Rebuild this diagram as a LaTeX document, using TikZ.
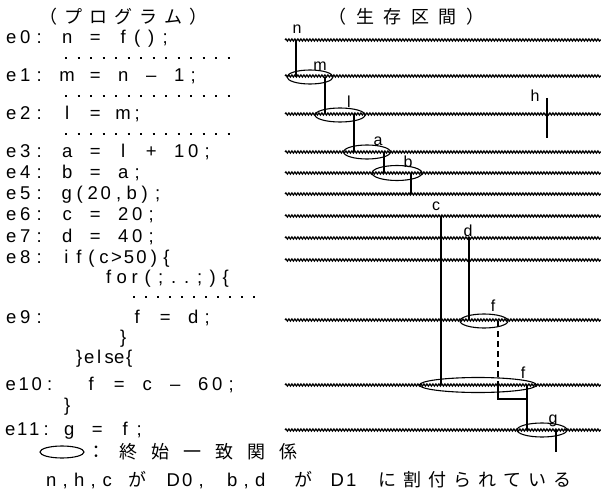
\documentclass[tikz,border=0pt]{standalone}
\usepackage{fontspec}
\setmainfont{Liberation Sans}
\newfontfamily\jp{Noto Sans CJK JP}
\usetikzlibrary{decorations.pathmorphing,shapes.geometric}
\makeatletter
\def\pl{\@ifnextchar[\pl@opt{\pl@opt[14]}}
\def\pl@opt[#1]#2{\def\pl@w{#1bp}\pl@loop#2\relax}
\def\pl@loop#1{\ifx#1\relax\else\pl@ch{#1}\expandafter\pl@loop\fi}
\def\pl@ch#1{\makebox[\pl@w]{\ifx#1_\else#1\fi}}
\makeatother
\begin{document}
\begin{tikzpicture}[x=1bp,y=-1bp,
  prog/.style={anchor=base west,inner sep=0pt,font=\fontsize{18.5bp}{20bp}\selectfont},
  jptext/.style={anchor=base west,inner sep=0pt,font=\jp\fontsize{18bp}{20bp}\selectfont},
  lbl/.style={inner sep=0pt,font=\fontsize{16bp}{17bp}\selectfont},
  wave/.style={decorate,decoration={snake,segment length=3bp,amplitude=1.1bp},line width=1.2bp},
  life/.style={line width=2.8bp},
  lifedash/.style={line width=2.8bp,dash pattern=on 6bp off 4bp},
  oval/.style={draw,ellipse,line width=1.1bp,inner sep=0pt},
  dotrow/.style={line width=2.2bp,dash pattern=on 2.2bp off 10.3bp},
  dotrowb/.style={line width=2.2bp,dash pattern=on 2.2bp off 9.8bp}]
\useasboundingbox (0,0) rectangle (601,499);

% titles
\node[jptext] (tprog) at (35.5,24) {\pl[25]{（プログラム）}};
\node[jptext] (tlive) at (324,24) {\pl[27.5]{（生存区間）}};

% program
\node[prog] (e0) at (4,44) {\pl{e0:_n_=_f();}};
\coordinate (d1s) at (65,58); \coordinate (d1e) at (230,58);
\draw[dotrow] (d1s) -- (d1e);
\node[prog] (e1) at (4,82) {\pl{e1:_m_=_n_–_1;}};
\coordinate (d2s) at (65,96); \coordinate (d2e) at (230,96);
\draw[dotrow] (d2s) -- (d2e);
\node[prog] (e2) at (4,120) {\pl{e2:_l_=_m;}};
\coordinate (d3s) at (65,134); \coordinate (d3e) at (230,134);
\draw[dotrow] (d3s) -- (d3e);
\node[prog] (e3) at (4,158) {\pl{e3:_a_=_l_+_10;}};
\node[prog] (e4) at (4,179) {\pl{e4:_b_=_a;}};
\node[prog] (e5) at (4,200) {\pl{e5:_}\pl[13]{g(20,b);}};
\node[prog] (e6) at (4,221) {\pl{e6:_c_=_20;}};
\node[prog] (e7) at (4,242) {\pl{e7:_d_=_40;}};
\node[prog] (e8) at (4,263) {\pl{e8:_}\pl[12.5]{if(c>50)\{}};
\node[prog] (for) at (4,283) {\pl{_______}\pl[13]{for(;..;)\{}};
\coordinate (d4s) at (133,297); \coordinate (d4e) at (255,297);
\draw[dotrowb] (d4s) -- (d4e);
\node[prog] (e9) at (4,323) {\pl{e9:______f_=_d;}};
\node[prog] (cl1) at (4,343) {\pl{________\}}};
\node[prog] (els) at (4,363) {\pl{_____}\pl[10]{\}else\{}};
\node[prog] (e10) at (4,390) {\pl[13]{e10:}\pl{__f_=_c_–_60;}};
\node[prog] (cl2) at (4,411) {\pl{____\}}};
\node[prog] (e11) at (4,435) {\pl[12]{e11:}\pl[10]{_}\pl{g_=_f;}};

% wavy lines
\foreach \y [count=\i from 0] in {40,76,114,152,173,194,216,238,260,320,385,430} {
  \coordinate (w\i s) at (285,\y);
  \coordinate (w\i e) at (601,\y);
  \draw[wave] (w\i s) -- (w\i e);
}

% ovals
\node[oval,minimum width=46bp,minimum height=14bp] (om) at (310,77) {};
\node[oval,minimum width=50bp,minimum height=14bp] (ol) at (340,115) {};
\node[oval,minimum width=47bp,minimum height=14bp] (oa) at (367,152) {};
\node[oval,minimum width=50bp,minimum height=15bp] (ob) at (397,173) {};
\node[oval,minimum width=48bp,minimum height=14bp] (of9) at (484,321) {};
\node[oval,minimum width=117bp,minimum height=15bp] (of10) at (478,385) {};
\node[oval,minimum width=50bp,minimum height=14bp] (og) at (542,430) {};

% lifetimes
\coordinate (nT) at (296,40); \coordinate (nB) at (296,77);
\coordinate (mT) at (325,77); \coordinate (mB) at (325,114);
\coordinate (lT) at (354,114); \coordinate (lB) at (354,152);
\coordinate (hT) at (547,98); \coordinate (hB) at (547,138);
\coordinate (aT) at (384,152); \coordinate (aB) at (384,173);
\coordinate (bT) at (411,173); \coordinate (bB) at (411,194);
\coordinate (cT) at (441,216); \coordinate (cB) at (441,385);
\coordinate (dT) at (469,238); \coordinate (dB) at (469,320);
\coordinate (fT) at (498,321); \coordinate (fM) at (498,385);
\coordinate (fK) at (498,399); \coordinate (fJ) at (527,399);
\coordinate (gT) at (527,385); \coordinate (gB) at (527,430);
\coordinate (hhT) at (556,430); \coordinate (hhB) at (556,452);
\draw[life] (nT) -- (nB);
\draw[life] (mT) -- (mB);
\draw[life] (lT) -- (lB);
\draw[life] (hT) -- (hB);
\draw[life] (aT) -- (aB);
\draw[life] (bT) -- (bB);
\draw[life] (cT) -- (cB);
\draw[life] (dT) -- (dB);
\draw[lifedash] (fT) -- (fM);
\draw[life] (fM) -- (fK) -- (fJ);
\draw[life] (gT) -- (gB);
\draw[life] (hhT) -- (hhB);

% labels
\node[lbl] (ln) at (297,29) {n};
\node[lbl] (lm) at (320,66) {m};
\node[lbl] (ll) at (349,102) {l};
\node[lbl] (lh) at (535,96) {h};
\node[lbl] (la) at (378,141) {a};
\node[lbl] (lb) at (408,162) {b};
\node[lbl] (lc) at (436,206) {c};
\node[lbl] (ld) at (468,231) {d};
\node[lbl] (lf9) at (493,306) {f};
\node[lbl] (lf10) at (523,373) {f};
\node[lbl] (lg) at (553,421) {g};

% legend
\node[oval,minimum width=44bp,minimum height=12bp] (leg) at (62,452) {};
\node[jptext] (legt) at (80,458) {\pl[32]{：終始一致関係}};

% assignment line
\node[prog] (s1) at (44,486) {\pl{n,h,c}};
\node[jptext] (s2) at (128,486) {が};
\node[prog] (s3) at (166,486) {\pl{D0,}};
\node[prog] (s4) at (225,486) {\pl{b,d}};
\node[jptext] (s5) at (294,486) {が};
\node[prog] (s6) at (330,486) {\pl{D1}};
\node[jptext] (s7) at (375,486) {\pl[25]{に割付られている}};
\end{tikzpicture}
\end{document}
